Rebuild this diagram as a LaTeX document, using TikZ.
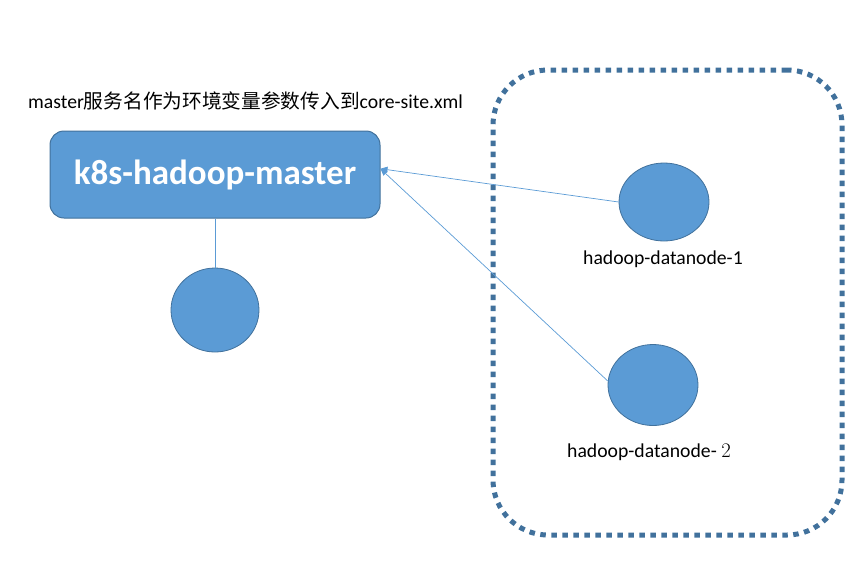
\documentclass[tikz,border=0pt]{standalone}
\usepackage{fontspec}
\setmainfont{Carlito}
\newfontfamily\cjk{Noto Sans CJK SC}
\usetikzlibrary{positioning, arrows.meta, calc, shapes.geometric}
\definecolor{ms_blue}{RGB}{91, 155, 213}
\definecolor{ms_edge}{RGB}{65, 113, 156}

\begin{document}
\begin{tikzpicture}[x=1pt, y=-1pt, >=Stealth,
      box/.style={draw=ms_edge, line width=1pt, fill=ms_blue, rounded corners=14pt,
        minimum width=330pt, minimum height=87pt, text=white, font=\fontsize{35}{40}\selectfont\bfseries},
      pod/.style={ellipse, draw=ms_edge, line width=0.8pt, fill=ms_blue, inner sep=0pt},
      lbl/.style={font=\fontsize{19.7}{23}\selectfont, inner sep=0pt},
      link/.style={draw=ms_blue, line width=0.7pt},
      grp/.style={draw=ms_edge, line width=5pt, dash pattern=on 5.5pt off 5.5pt,
        rounded corners=55pt, minimum width=349pt, minimum height=465pt}]
    \useasboundingbox (0,0) rectangle (864,574);
    \node[grp] (group) at (667.5,302.5) {};
    \node[lbl, anchor=west] (title) at (28,101) {master{\cjk 服务名作为环境变量参数传入到}core-site.xml};
    \node[box] (master) at (215,174.5) {k8s-hadoop-master};
    \node[pod, minimum width=88pt, minimum height=84pt] (mpod) at (215,310) {};
    \node[pod, minimum width=90pt, minimum height=78pt] (dn1) at (664,202) {};
    \node[lbl] (dn1lbl) at (663,259) {hadoop-datanode-1};
    \node[pod, minimum width=90pt, minimum height=81pt] (dn2) at (653,385) {};
    \node[lbl] (dn2lbl) at (649,452) {hadoop-datanode- $2$};
    \draw[link] (master) -- (mpod);
    \draw[link, -{Triangle[length=7pt, width=6pt]}] (dn1.west) -- (master.2);
    \draw[link, -{Triangle[length=7pt, width=6pt]}] (dn2.175) -- (master.2);
  \end{tikzpicture}
\end{document}
